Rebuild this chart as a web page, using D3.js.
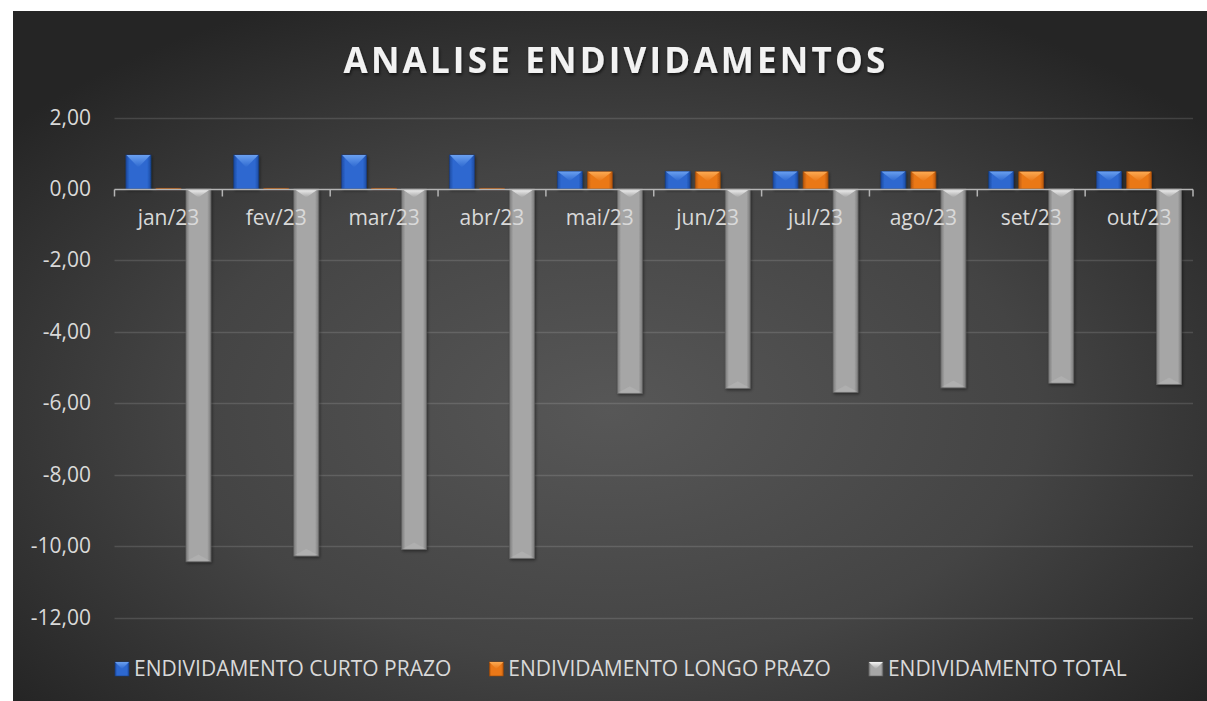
<!DOCTYPE html>
<html>
<head>
<meta charset="utf-8">
<script src="https://cdn.jsdelivr.net/npm/d3@7"></script>
<style>
  html, body { margin: 0; padding: 0; background: #ffffff; }
  svg { display: block; font-family: "Open Sans", sans-serif; }
</style>
</head>
<body>
<svg id="chart" width="1207" height="701"></svg>
<script>
// Chart values
var months = ["jan/23", "fev/23", "mar/23", "abr/23", "mai/23", "jun/23", "jul/23", "ago/23", "set/23", "out/23"];
var curtoPrazo = [0.95, 0.95, 0.95, 0.95, 0.49, 0.49, 0.49, 0.49, 0.49, 0.49];
var longoPrazo = [0.02, 0.02, 0.02, 0.02, 0.48, 0.48, 0.48, 0.48, 0.48, 0.48];
var total = [-10.44, -10.28, -10.10, -10.35, -5.73, -5.59, -5.70, -5.57, -5.44, -5.48];
var seriesNames = ["ENDIVIDAMENTO CURTO PRAZO", "ENDIVIDAMENTO LONGO PRAZO", "ENDIVIDAMENTO TOTAL"];
var yTicks = [2, 0, -2, -4, -6, -8, -10, -12];

var palette = [
  {edge: "#1c4aa0", mid: "#2d68d0", top: "#6aa0f0", bottom: "#244f9e"},
  {edge: "#b8580c", mid: "#ea7818", top: "#fcaa52", bottom: "#c26512"},
  {edge: "#7a7a7a", mid: "#a6a6a6", top: "#f6f6f6", bottom: "#b8b8b8"}
];

var svg = d3.select("#chart");
var defs = svg.append("defs");

// Background gradient
var bg = defs.append("radialGradient")
    .attr("id", "bg")
    .attr("cx", "50%").attr("cy", "58%").attr("r", "65%");
bg.append("stop").attr("offset", "0%").attr("stop-color", "#575757");
bg.append("stop").attr("offset", "55%").attr("stop-color", "#444444");
bg.append("stop").attr("offset", "100%").attr("stop-color", "#252525");

// Horizontal body gradients for bars
palette.forEach(function(p, i) {
  var g = defs.append("linearGradient")
      .attr("id", "body" + i)
      .attr("x1", "0").attr("x2", "1").attr("y1", "0").attr("y2", "0");
  g.append("stop").attr("offset", "0%").attr("stop-color", p.edge);
  g.append("stop").attr("offset", "15%").attr("stop-color", p.mid);
  g.append("stop").attr("offset", "85%").attr("stop-color", p.mid);
  g.append("stop").attr("offset", "100%").attr("stop-color", p.edge);

  var t = defs.append("linearGradient")
      .attr("id", "top" + i)
      .attr("x1", "0").attr("x2", "0").attr("y1", "0").attr("y2", "1");
  t.append("stop").attr("offset", "0%").attr("stop-color", p.top);
  t.append("stop").attr("offset", "100%").attr("stop-color", p.mid);
});

var shadow = defs.append("filter").attr("id", "shadow")
    .attr("x", "-20%").attr("y", "-20%").attr("width", "140%").attr("height", "140%");
shadow.append("feDropShadow").attr("dx", 1).attr("dy", 1.5).attr("stdDeviation", 1.5)
    .attr("flood-color", "#000").attr("flood-opacity", 0.45);

var titleShadow = defs.append("filter").attr("id", "tshadow")
    .attr("x", "-5%").attr("y", "-20%").attr("width", "110%").attr("height", "150%");
titleShadow.append("feDropShadow").attr("dx", 1).attr("dy", 2).attr("stdDeviation", 1.5)
    .attr("flood-color", "#000").attr("flood-opacity", 0.6);

svg.append("rect")
    .attr("x", 13).attr("y", 11)
    .attr("width", 1194).attr("height", 690)
    .attr("fill", "url(#bg)");

// Title
svg.append("text")
    .attr("x", 616).attr("y", 73)
    .attr("text-anchor", "middle")
    .attr("fill", "#f2f2f2")
    .style("font-size", "35px")
    .style("font-weight", "bold")
    .style("letter-spacing", "3.2px")
    .attr("filter", "url(#tshadow)")
    .text("ANALISE ENDIVIDAMENTOS");

var plot = {left: 114.5, right: 1193, top: 117.5, bottom: 617.5};

var x0 = d3.scaleBand()
    .domain(months)
    .range([plot.left, plot.right])
    .paddingInner(0).paddingOuter(0);

var x1 = d3.scaleBand()
    .domain([0, 1, 2])
    .range([0, x0.bandwidth()])
    .paddingInner(1 / 6)
    .paddingOuter(0.38);

var y = d3.scaleLinear()
    .domain([-12, 2])
    .range([plot.bottom, plot.top]);

// Gridlines and y labels
var yAxis = svg.append("g").classed("y-axis", true);
yAxis.selectAll("line")
    .data(yTicks.filter(function(d) { return d !== 0; }))
    .enter().append("line")
    .attr("x1", plot.left).attr("x2", plot.right)
    .attr("y1", function(d) { return Math.round(y(d)) + 0.5; })
    .attr("y2", function(d) { return Math.round(y(d)) + 0.5; })
    .attr("stroke", "rgba(255,255,255,0.13)")
    .attr("stroke-width", 1.5);

yAxis.selectAll("text")
    .data(yTicks)
    .enter().append("text")
    .attr("x", 91)
    .attr("y", function(d) { return y(d) + 7; })
    .attr("text-anchor", "end")
    .attr("fill", "#d9d9d9")
    .style("font-size", "21px")
    .text(function(d) { return d3.format(".2f")(d).replace("\u2212", "-").replace(".", ","); });

// Bars
var rows = months.map(function(m, i) {
  return {month: m, values: [curtoPrazo[i], longoPrazo[i], total[i]]};
});

var groups = svg.selectAll(".group")
    .data(rows)
    .enter().append("g")
    .classed("group", true)
    .attr("transform", function(d) { return "translate(" + x0(d.month) + ",0)"; });

var bars = groups.selectAll(".bar")
    .data(function(d) { return d.values.map(function(v, s) { return {s: s, v: v}; }); })
    .enter().append("g")
    .classed("bar", true);

function barGeom(d) {
  var bx = x1(d.s), w = x1.bandwidth();
  var yTop = y(Math.max(0, d.v)), yBot = y(Math.min(0, d.v));
  return {x: bx, w: w, y0: yTop, y1: yBot, h: yBot - yTop};
}

bars.append("rect")
    .attr("x", function(d) { return barGeom(d).x; })
    .attr("y", function(d) { return barGeom(d).y0; })
    .attr("width", function(d) { return barGeom(d).w; })
    .attr("height", function(d) { return Math.max(1.5, barGeom(d).h); })
    .attr("fill", function(d) { return "url(#body" + d.s + ")"; })
    .attr("stroke", function(d) { return d3.color(palette[d.s].edge).darker(0.6); })
    .attr("stroke-width", 0.6)
    .attr("filter", "url(#shadow)");

// Top bevel
bars.filter(function(d) { return barGeom(d).h > 4; })
    .append("path")
    .attr("d", function(d) {
      var g = barGeom(d);
      var depth = d.v > 0 ? Math.min(g.w * 0.5, g.h * 0.55) : g.w * 0.34;
      return "M" + (g.x + 0.5) + "," + g.y0 + "L" + (g.x + g.w - 0.5) + "," + g.y0 +
             "L" + (g.x + g.w / 2) + "," + (g.y0 + depth) + "Z";
    })
    .attr("fill", function(d) { return "url(#top" + d.s + ")"; });

// Bottom bevel, only on the long negative bars
bars.filter(function(d) { return d.v < 0; })
    .append("path")
    .attr("d", function(d) {
      var g = barGeom(d);
      var depth = g.w * 0.25;
      return "M" + (g.x + 1) + "," + (g.y1 - 1) + "L" + (g.x + g.w - 1) + "," + (g.y1 - 1) +
             "L" + (g.x + g.w / 2) + "," + (g.y1 - 1 - depth) + "Z";
    })
    .attr("fill", function(d) { return palette[d.s].bottom; })
    .attr("opacity", 0.5);

// Zero axis with category ticks
var zeroY = Math.round(y(0)) + 0.5;
svg.append("line")
    .attr("x1", plot.left).attr("x2", plot.right)
    .attr("y1", zeroY).attr("y2", zeroY)
    .attr("stroke", "#b4b4b4")
    .attr("stroke-width", 1.5);

var tickXs = months.map(function(m) { return x0(m); }).concat([plot.right]);
svg.selectAll(".xtick")
    .data(tickXs)
    .enter().append("line")
    .classed("xtick", true)
    .attr("x1", function(d) { return d; }).attr("x2", function(d) { return d; })
    .attr("y1", zeroY).attr("y2", zeroY + 7)
    .attr("stroke", "#b4b4b4")
    .attr("stroke-width", 1.5);

// Category labels
svg.selectAll(".xlabel")
    .data(months)
    .enter().append("text")
    .classed("xlabel", true)
    .attr("x", function(d) { return x0(d) + x0.bandwidth() / 2; })
    .attr("y", 225)
    .attr("text-anchor", "middle")
    .attr("fill", "#d9d9d9")
    .style("font-size", "21px")
    .text(function(d) { return d; });

// Legend
var legend = svg.append("g").classed("legend", true);
var lx = 115;
seriesNames.forEach(function(name, s) {
  var item = legend.append("g").attr("transform", "translate(" + lx + ",662)");
  item.append("rect")
      .attr("width", 14).attr("height", 14)
      .attr("fill", "url(#body" + s + ")")
      .attr("stroke", d3.color(palette[s].edge).darker(0.6))
      .attr("stroke-width", 0.6);
  item.append("path")
      .attr("d", "M0,0L14,0L7,7Z")
      .attr("fill", "url(#top" + s + ")");
  var label = item.append("text")
      .attr("x", 19).attr("y", 14)
      .attr("fill", "#d9d9d9")
      .style("font-size", "21px")
      .text(name);
  lx += 19 + label.node().getComputedTextLength() + 38;
});
</script>
</body>
</html>
